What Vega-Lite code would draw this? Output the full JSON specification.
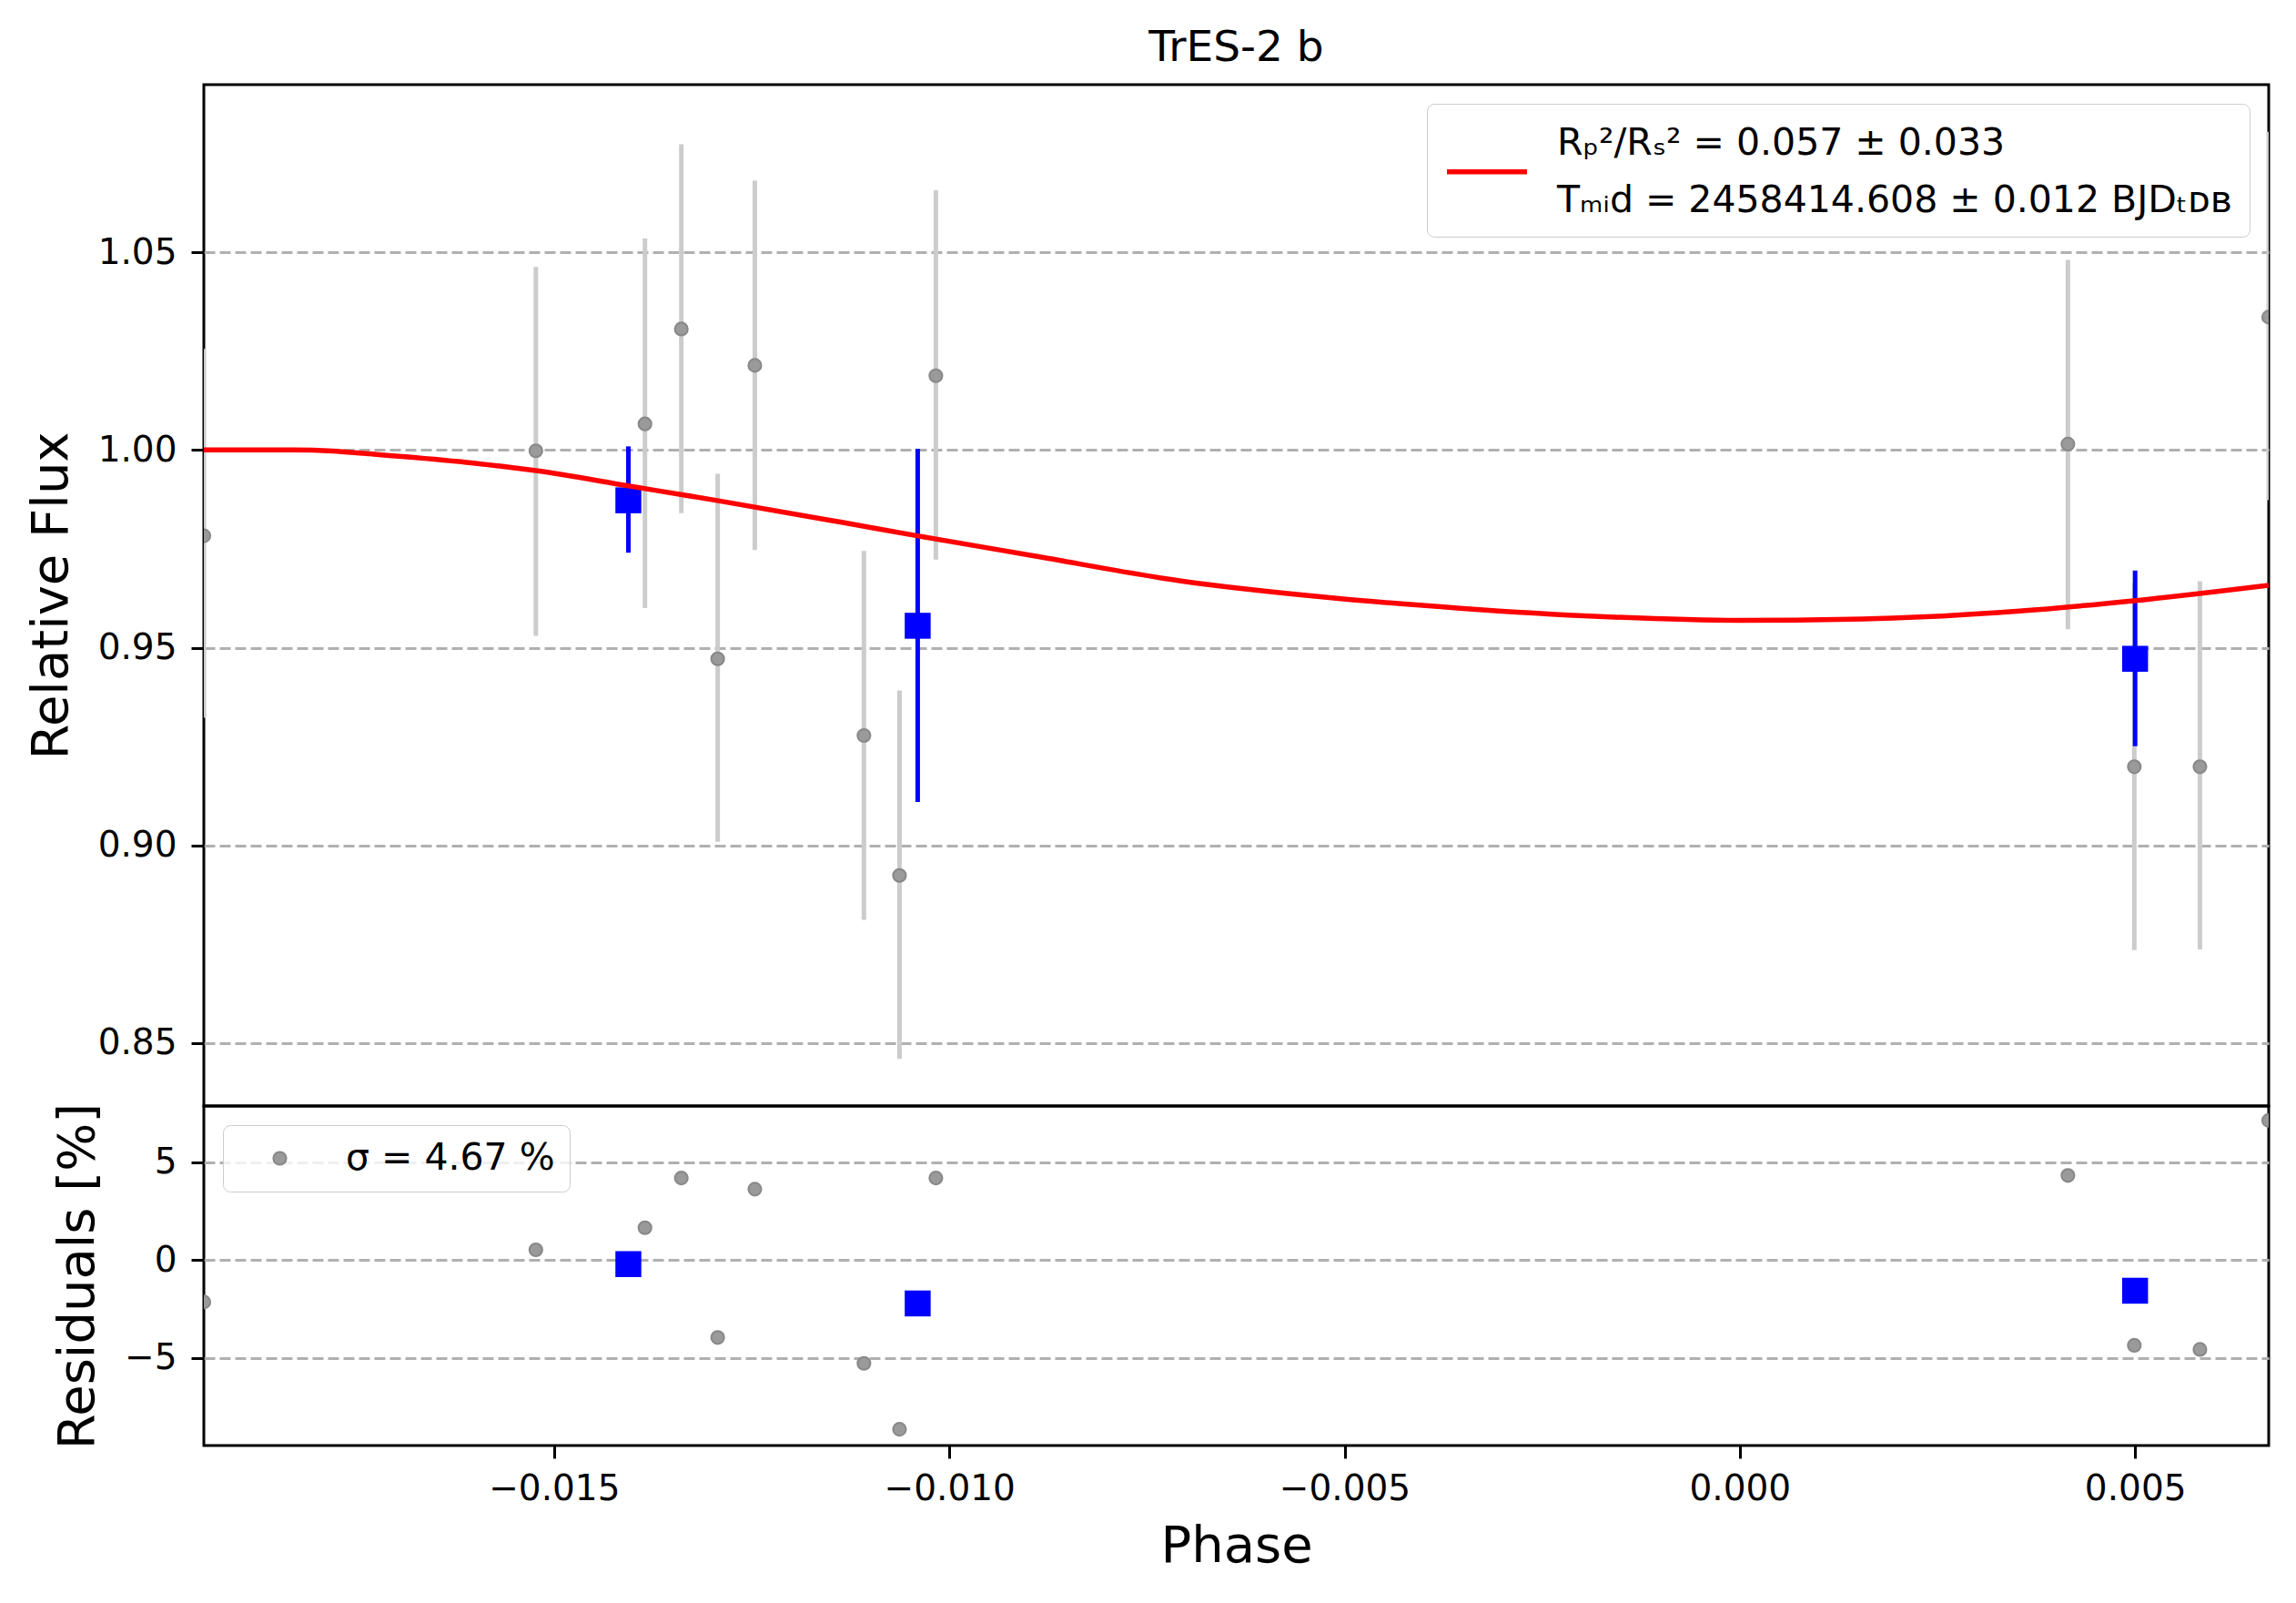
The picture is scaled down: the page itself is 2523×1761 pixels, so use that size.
{
  "$schema": "https://vega.github.io/schema/vega-lite/v6.json",
  "background": "white",
  "padding": {"left": 26, "top": 27, "right": 24, "bottom": 30},
  "spacing": 0,
  "bounds": "flush",
  "config": {
    "font": "DejaVu Sans",
    "view": {"stroke": "black", "strokeWidth": 3},
    "axis": {
      "domain": false,
      "tickColor": "black",
      "tickWidth": 3,
      "tickSize": 14,
      "labelFontSize": 39,
      "labelColor": "black",
      "labelPadding": 16,
      "titleFontSize": 56,
      "titleFontWeight": "normal",
      "titleColor": "black",
      "titlePadding": 22,
      "gridColor": "#b0b0b0",
      "gridDash": [12, 5],
      "gridWidth": 3
    },
    "legend": {
      "labelFontSize": 41,
      "labelColor": "black",
      "labelLimit": 2000,
      "strokeColor": "#cccccc",
      "fillColor": "rgba(255,255,255,0.8)",
      "cornerRadius": 8,
      "offset": 21
    },
    "style": {"guide-label": {"lineHeight": 63}}
  },
  "datasets": {
    "raw": [
      {"phase": -0.01943, "flux": 0.9783, "lo": 0.9323, "hi": 1.0256, "resid": -2.14},
      {"phase": -0.01523, "flux": 0.9998, "lo": 0.953, "hi": 1.0463, "resid": 0.53},
      {"phase": -0.01385, "flux": 1.0066, "lo": 0.96, "hi": 1.0535, "resid": 1.66},
      {"phase": -0.01339, "flux": 1.0306, "lo": 0.984, "hi": 1.0773, "resid": 4.2},
      {"phase": -0.01293, "flux": 0.9472, "lo": 0.9009, "hi": 0.994, "resid": -3.95},
      {"phase": -0.01246, "flux": 1.0214, "lo": 0.9747, "hi": 1.0681, "resid": 3.63},
      {"phase": -0.01108, "flux": 0.9278, "lo": 0.8812, "hi": 0.9745, "resid": -5.27},
      {"phase": -0.01063, "flux": 0.8924, "lo": 0.846, "hi": 0.9392, "resid": -8.64},
      {"phase": -0.01017, "flux": 1.0188, "lo": 0.9723, "hi": 1.0657, "resid": 4.2},
      {"phase": 0.00415, "flux": 1.0015, "lo": 0.9547, "hi": 1.0481, "resid": 4.33},
      {"phase": 0.00499, "flux": 0.9199, "lo": 0.8735, "hi": 0.9664, "resid": -4.35},
      {"phase": 0.00582, "flux": 0.9199, "lo": 0.8737, "hi": 0.9668, "resid": -4.56},
      {"phase": 0.00669, "flux": 1.0336, "lo": 0.9873, "hi": 1.0805, "resid": 7.14}
    ],
    "binned": [
      {"phase": -0.01406, "flux": 0.98728, "lo": 0.97403, "hi": 1.00092, "resid": -0.2},
      {"phase": -0.0104, "flux": 0.95555, "lo": 0.911, "hi": 1.0003, "resid": -2.21},
      {"phase": 0.005, "flux": 0.9472, "lo": 0.92509, "hi": 0.96952, "resid": -1.56}
    ],
    "model": [
      {"phase": -0.01943, "flux": 1.0},
      {"phase": -0.0183, "flux": 1.0},
      {"phase": -0.0178, "flux": 0.99975},
      {"phase": -0.01741, "flux": 0.99915},
      {"phase": -0.0162, "flux": 0.99707},
      {"phase": -0.01523, "flux": 0.99477},
      {"phase": -0.01406, "flux": 0.99092},
      {"phase": -0.01297, "flux": 0.98733},
      {"phase": -0.01136, "flux": 0.98171},
      {"phase": -0.01039, "flux": 0.97825},
      {"phase": -0.00894, "flux": 0.97327},
      {"phase": -0.00707, "flux": 0.96689},
      {"phase": -0.00531, "flux": 0.9629},
      {"phase": -0.00354, "flux": 0.95998},
      {"phase": -0.00178, "flux": 0.9579},
      {"phase": 0.0, "flux": 0.95691},
      {"phase": 0.00174, "flux": 0.95737},
      {"phase": 0.0035, "flux": 0.95922},
      {"phase": 0.00498, "flux": 0.96189},
      {"phase": 0.00669, "flux": 0.96581}
    ]
  },
  "vconcat": [
    {
      "title": {"text": "TrES-2 b", "fontSize": 47, "fontWeight": "normal", "color": "black", "anchor": "middle", "frame": "group", "offset": 16},
      "width": 2269,
      "height": 1122,
      "layer": [
        {
          "data": {"name": "raw"},
          "mark": {"type": "rule", "color": "#cccccc", "strokeWidth": 5, "clip": true},
          "encoding": {
            "x": {"field": "phase", "type": "quantitative", "scale": {"domain": [-0.01943, 0.00669], "nice": false, "zero": false}, "axis": null},
            "y": {"field": "lo", "type": "quantitative", "scale": {"domain": [0.8341, 1.0924], "nice": false, "zero": false},
                  "axis": {"title": "Relative Flux", "values": [0.85, 0.9, 0.95, 1.0, 1.05], "format": ".2f", "grid": true}},
            "y2": {"field": "hi"}
          }
        },
        {
          "data": {"name": "raw"},
          "mark": {"type": "point", "shape": "circle", "filled": true, "fill": "#9a9a9a", "stroke": "#888888", "strokeWidth": 2, "size": 200, "opacity": 1, "clip": true},
          "encoding": {
            "x": {"field": "phase", "type": "quantitative"},
            "y": {"field": "flux", "type": "quantitative"}
          }
        },
        {
          "data": {"name": "binned"},
          "mark": {"type": "rule", "color": "#0000ff", "strokeWidth": 5},
          "encoding": {
            "x": {"field": "phase", "type": "quantitative"},
            "y": {"field": "lo", "type": "quantitative"},
            "y2": {"field": "hi"}
          }
        },
        {
          "data": {"name": "binned"},
          "mark": {"type": "point", "shape": "square", "filled": true, "color": "#0000ff", "size": 812, "opacity": 1},
          "encoding": {
            "x": {"field": "phase", "type": "quantitative"},
            "y": {"field": "flux", "type": "quantitative"}
          }
        },
        {
          "data": {"name": "model"},
          "mark": {"type": "line", "strokeWidth": 5.5, "interpolate": "monotone", "clip": true},
          "encoding": {
            "x": {"field": "phase", "type": "quantitative"},
            "y": {"field": "flux", "type": "quantitative"},
            "color": {
              "datum": "model",
              "scale": {"range": ["#ff0000"]},
              "legend": {
                "title": null,
                "orient": "top-right",
                "padding": 19,
                "symbolType": "M-2,1.4L2,1.4",
                "symbolSize": 1936,
                "symbolOffset": 22,
                "symbolStrokeWidth": 5.5,
                "labelOffset": 52,
                "labelExpr": "['Rₚ²/Rₛ² = 0.057 ± 0.033', 'Tₘᵢd = 2458414.608 ± 0.012 BJDₜᴅʙ']"
              }
            }
          }
        }
      ]
    },
    {
      "width": 2269,
      "height": 373,
      "layer": [
        {
          "data": {"name": "raw"},
          "mark": {"type": "point", "shape": "circle", "filled": true, "stroke": "#888888", "strokeWidth": 2, "size": 200, "opacity": 1, "clip": true},
          "encoding": {
            "x": {"field": "phase", "type": "quantitative", "scale": {"domain": [-0.01943, 0.00669], "nice": false, "zero": false},
                  "axis": {"title": "Phase", "values": [-0.015, -0.01, -0.005, 0, 0.005], "format": ".3f", "grid": false, "titlePadding": 16, "labelPadding": 14}},
            "y": {"field": "resid", "type": "quantitative", "scale": {"domain": [-9.47, 7.88], "nice": false, "zero": false},
                  "axis": {"title": "Residuals [%]", "values": [-5, 0, 5], "format": "d", "grid": true}},
            "color": {
              "datum": "σ = 4.67 %",
              "scale": {"range": ["#9a9a9a"]},
              "legend": {
                "title": null,
                "orient": "top-left",
                "padding": 16,
                "symbolType": "circle",
                "symbolSize": 200,
                "symbolStrokeColor": "#888888",
                "symbolStrokeWidth": 2,
                "symbolOffset": 26,
                "labelOffset": 52
              }
            }
          }
        },
        {
          "data": {"name": "binned"},
          "mark": {"type": "point", "shape": "square", "filled": true, "color": "#0000ff", "size": 812, "opacity": 1},
          "encoding": {
            "x": {"field": "phase", "type": "quantitative"},
            "y": {"field": "resid", "type": "quantitative"}
          }
        }
      ]
    }
  ],
  "resolve": {"scale": {"color": "independent"}, "legend": {"color": "independent"}}
}
